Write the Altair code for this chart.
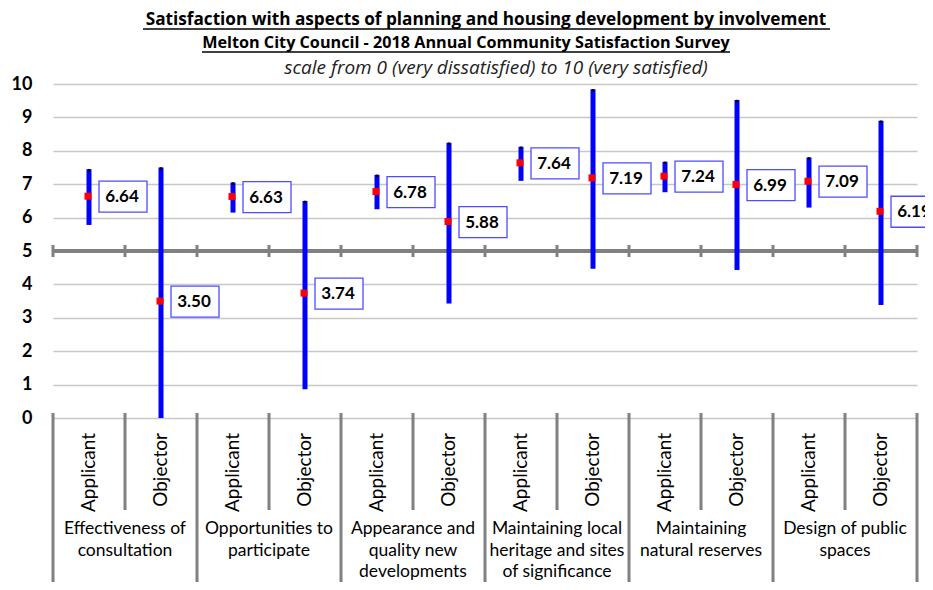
import altair as alt
import pandas as pd

title_lines = [
    "Satisfaction  with aspects of planning and housing development by involvement",
    "Melton City Council - 2018 Annual Community Satisfaction Survey",
    "scale from 0 (very dissatisfied) to 10 (very satisfied)",
]
groups = [
    "Effectiveness of\nconsultation",
    "Opportunities to\nparticipate",
    "Appearance and\nquality new\ndevelopments",
    "Maintaining local\nheritage and sites\nof significance",
    "Maintaining\nnatural reserves",
    "Design of public\nspaces",
]
involvement = ["Applicant", "Objector"]
means = [6.64, 3.50, 6.63, 3.74, 6.78, 5.88, 7.64, 7.19, 7.24, 6.99, 7.09, 6.19]
lows = [5.78, 0.00, 6.15, 0.86, 6.25, 3.43, 7.10, 4.47, 6.76, 4.43, 6.30, 3.38]
highs = [7.45, 7.50, 7.05, 6.50, 7.28, 8.24, 8.12, 9.84, 7.67, 9.52, 7.80, 8.90]
y_ticks = list(range(0, 11))

FONT = "Lato"
TFONT = "Open Sans"
W, H = 864, 334

rows = []
for gi, g in enumerate(groups):
    for ii, inv in enumerate(involvement):
        k = gi * len(involvement) + ii
        rows.append(dict(group=g, involvement=inv, pos=k + 0.5,
                         mean=means[k], low=lows[k], high=highs[k],
                         label=f"{means[k]:.2f}"))
df = pd.DataFrame(rows)
n = len(df)
grp_df = pd.DataFrame({"group": groups,
                       "pos": [len(involvement) * i + len(involvement) / 2 for i in range(len(groups))]})
bounds_df = pd.DataFrame({"x": list(range(0, n + 1))})
grp_sep = pd.DataFrame({"x": list(range(0, n + 1, 2))})
sub_sep = pd.DataFrame({"x": list(range(1, n, 2))})

XS = alt.Scale(domain=[0, n], nice=False, zero=False)
YS = alt.Scale(domain=[0, 10], nice=False, zero=False)

yaxis = alt.Axis(values=y_ticks, title=None, domain=False, ticks=False,
                 labelFont=FONT, labelFontSize=18, labelFontWeight="bold",
                 labelColor="black", labelPadding=21, grid=True,
                 gridColor="#c8c8c8", gridWidth=1.5, gridOpacity=1)


def X(field):
    return alt.X(field, type="quantitative", scale=XS, axis=None)


def Y(field=None, datum=None):
    if datum is not None:
        return alt.Y(datum=datum, type="quantitative", scale=YS, axis=yaxis)
    return alt.Y(field, type="quantitative", scale=YS, axis=yaxis)


base = alt.Chart(df)

mid = alt.Chart(bounds_df).mark_rule(color="#808080", strokeWidth=4).encode(
    x=alt.X("min(x):Q", scale=XS, axis=None), x2="max(x):Q", y=Y(datum=5))

mid_ticks = alt.Chart(bounds_df).mark_rule(
    color="#808080", strokeWidth=3, yOffset=-6, y2Offset=6).encode(
    x=X("x"), y=Y(datum=5), y2=alt.Y2(datum=5))

g_sep = alt.Chart(grp_sep).mark_rule(
    color="#808080", strokeWidth=3, yOffset=-5, y2Offset=185).encode(
    x=X("x"), y=Y(datum=0), y2=alt.Y2(datum=0))

s_sep = alt.Chart(sub_sep).mark_rule(
    color="#808080", strokeWidth=3, yOffset=-5, y2Offset=92).encode(
    x=X("x"), y=Y(datum=0), y2=alt.Y2(datum=0))

bars = base.mark_rule(color="#0000ff", strokeWidth=5).encode(
    x=X("pos"), y=Y("low"), y2="high")

tips = base.mark_square(color="black", size=6, opacity=1, yOffset=1).encode(
    x=X("pos"), y=Y("high"))

dots = base.mark_square(color="#ff0000", size=49, opacity=1, xOffset=-1).encode(
    x=X("pos"), y=Y("mean"))

boxes = base.mark_rect(fill="white", stroke="#4d4dff", strokeWidth=1.3,
                       xOffset=10, x2Offset=58, yOffset=-15, y2Offset=16).encode(
    x=X("pos"), x2="pos", y=Y("mean"), y2="mean")

labels = base.mark_text(font=FONT, fontSize=17, fontWeight="bold", color="black",
                        xOffset=33, yOffset=1).encode(
    x=X("pos"), y=Y("mean"), text="label")

sub_labels = base.mark_text(font=FONT, fontSize=19, color="black", angle=270,
                            align="right", baseline="middle", yOffset=15).encode(
    x=X("pos"), y=Y(datum=0), text="involvement")

grp_labels = alt.Chart(grp_df).mark_text(
    font=FONT, fontSize=17.5, color="black", baseline="top", lineBreak="\n",
    lineHeight=21.5, yOffset=102).encode(
    x=X("pos"), y=Y(datum=0), text="group")


def title_text(txt, xpix, ypix, size, color="black", **kw):
    return alt.Chart(pd.DataFrame({"t": [txt]})).mark_text(
        font=TFONT, fontSize=size, color=color, baseline="alphabetic", **kw).encode(
        x=alt.value(xpix), y=alt.value(ypix), text="t")


t1 = title_text(title_lines[0], 433, -59, 17.2, fontWeight="bold")
t2 = title_text(title_lines[1], 413, -36, 16.2, fontWeight="bold")
t3 = title_text(title_lines[2], 443, -10, 19, color="#222222", fontStyle="italic")
u1 = alt.Chart(pd.DataFrame({"a": [0]})).mark_rule(color="black", strokeWidth=1.3).encode(
    x=alt.value(90), x2=alt.value(777), y=alt.value(-55))
u2 = alt.Chart(pd.DataFrame({"a": [0]})).mark_rule(color="black", strokeWidth=1.3).encode(
    x=alt.value(149), x2=alt.value(677), y=alt.value(-32))

chart = alt.layer(
    mid, mid_ticks, g_sep, s_sep, bars, tips, dots, boxes, labels,
    sub_labels, grp_labels, t1, t2, t3, u1, u2
).properties(
    width=W, height=H,
    autosize=alt.AutoSizeParams(type="none"),
    padding={"left": 45, "top": 76, "right": 8, "bottom": 164},
).configure(background="white").configure_view(stroke=None)

chart.save("out.html", embed_options={"renderer": "svg", "actions": False})
